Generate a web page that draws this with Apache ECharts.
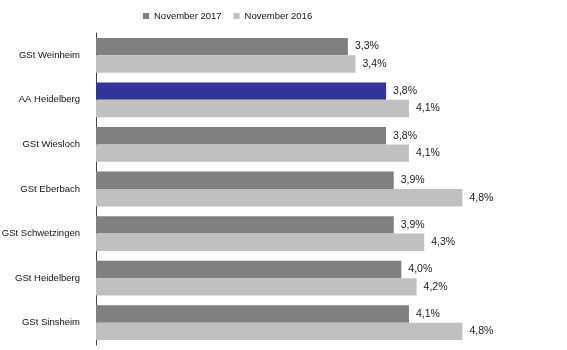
<!DOCTYPE html>
<html>
<head>
<meta charset="utf-8">
<script src="https://cdn.jsdelivr.net/npm/echarts@6/dist/echarts.min.js"></script>
<style>
  html, body { margin: 0; padding: 0; background: #fff; }
  #chart { width: 567px; height: 350px; }
</style>
</head>
<body>
<div id="chart"></div>
<script>
const categories = ["GSt Weinheim", "AA Heidelberg", "GSt Wiesloch", "GSt Eberbach", "GSt Schwetzingen", "GSt Heidelberg", "GSt Sinsheim"];
const nov2017 = [3.3, 3.8, 3.8, 3.9, 3.9, 4.0, 4.1];
const nov2016 = [3.4, 4.1, 4.1, 4.8, 4.3, 4.2, 4.8];
const highlight = "AA Heidelberg";

const chart = echarts.init(document.getElementById("chart"));

const fmt = (p) => p.value.toFixed(1).replace(".", ",") + "%";

chart.setOption({
    animation: false,
    textStyle: { fontFamily: "Liberation Sans, Arial, sans-serif" },
    legend: {
        top: 6,
        left: 138,
        itemWidth: 6,
        itemHeight: 6,
        itemGap: 12,
        icon: "rect",
        textStyle: { fontSize: 9.5, color: "#111" },
        data: ["November 2017", "November 2016"],
    },
    grid: { left: 96, right: 13, top: 33, bottom: 5, containLabel: false, outerBoundsMode: "none" },
    xAxis: {
        type: "value",
        min: 0,
        max: 6,
        show: false,
    },
    yAxis: {
        type: "category",
        inverse: true,
        data: categories,
        axisLine: { show: true, lineStyle: { color: "#444", width: 1 } },
        axisTick: { show: false },
        axisLabel: { fontSize: 9.5, color: "#111", margin: 16 },
    },
    series: [
        {
            name: "November 2017",
            type: "bar",
            barGap: "0%",
            barCategoryGap: "22%",
            itemStyle: { color: "#808080" },
            data: nov2017.map((v, i) => ({
                value: v,
                itemStyle: categories[i] === highlight ? { color: "#333399" } : undefined,
            })),
            label: { show: true, position: "right", distance: 7, fontSize: 10.5, color: "#222", formatter: fmt },
        },
        {
            name: "November 2016",
            type: "bar",
            itemStyle: { color: "#c0c0c0" },
            data: nov2016,
            label: { show: true, position: "right", distance: 7, fontSize: 10.5, color: "#222", formatter: fmt },
        },
    ],
});
</script>
</body>
</html>
